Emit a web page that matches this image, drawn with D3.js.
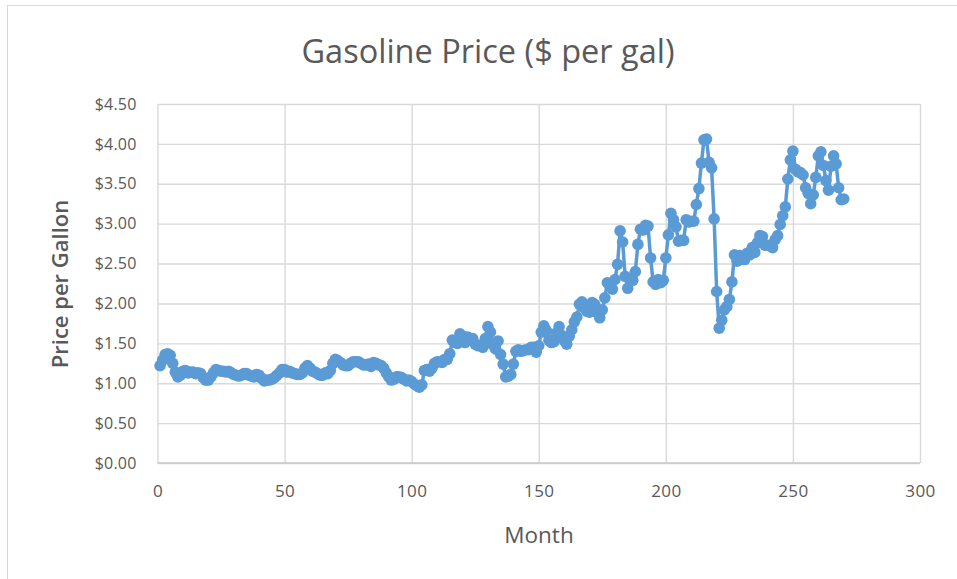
<!DOCTYPE html>
<html><head><meta charset="utf-8">
<script src="https://cdn.jsdelivr.net/npm/d3@7"></script>
<style>body{margin:0;background:#fff}svg{display:block}</style>
</head><body>
<svg id="c" width="957" height="579"></svg>
<script>
const chartTitle = "Gasoline Price ($ per gal)";
const xTitle = "Month";
const yTitle = "Price per Gallon";
const xTicks = [0, 50, 100, 150, 200, 250, 300];
const yTicks = [0, 0.5, 1, 1.5, 2, 2.5, 3, 3.5, 4, 4.5];
const prices = [
  1.22, 1.29, 1.36, 1.37, 1.35,
  1.25, 1.14, 1.08, 1.10, 1.15, 1.16, 1.13, 1.14, 1.14, 1.12, 1.13, 1.12,
  1.07, 1.04, 1.04, 1.08, 1.13, 1.17, 1.16, 1.15, 1.15, 1.14, 1.15, 1.13,
  1.11, 1.10, 1.09, 1.10, 1.12, 1.12, 1.10, 1.09, 1.08, 1.11, 1.10, 1.06,
  1.03, 1.04, 1.04, 1.05, 1.07, 1.10, 1.13, 1.17, 1.17, 1.14, 1.15, 1.13,
  1.12, 1.11, 1.11, 1.13, 1.19, 1.22, 1.19, 1.15, 1.14, 1.12, 1.10, 1.10,
  1.13, 1.12, 1.16, 1.25, 1.30, 1.28, 1.26, 1.23, 1.22, 1.22, 1.25, 1.27,
  1.27, 1.27, 1.25, 1.23, 1.23, 1.24, 1.21, 1.26, 1.25, 1.23, 1.22, 1.19,
  1.13, 1.08, 1.04, 1.05, 1.08, 1.08, 1.07, 1.05, 1.03, 1.04, 1.02, 0.99,
  0.97, 0.95, 0.98, 1.16, 1.17, 1.15, 1.19, 1.25, 1.27, 1.27, 1.26, 1.30,
  1.30, 1.37, 1.54, 1.51, 1.50, 1.62, 1.59, 1.51, 1.58, 1.56, 1.56, 1.49,
  1.47, 1.48, 1.45, 1.56, 1.71, 1.64, 1.48, 1.43, 1.53, 1.36, 1.24, 1.08,
  1.09, 1.11, 1.24, 1.40, 1.42, 1.40, 1.41, 1.42, 1.42, 1.45, 1.45, 1.39,
  1.47, 1.64, 1.72, 1.66, 1.54, 1.51, 1.52, 1.63, 1.71, 1.60, 1.54, 1.49,
  1.59, 1.67, 1.77, 1.83, 1.99, 2.02, 1.94, 1.90, 1.89, 2.01, 1.99, 1.88,
  1.82, 1.92, 2.07, 2.26, 2.22, 2.18, 2.30, 2.49, 2.91, 2.77, 2.34, 2.19,
  2.30, 2.29, 2.40, 2.74, 2.93, 2.92, 2.98, 2.97, 2.57, 2.27, 2.24, 2.30,
  2.26, 2.29, 2.57, 2.86, 3.13, 3.05, 2.96, 2.78, 2.79, 2.79, 3.05, 3.02,
  3.03, 3.03, 3.24, 3.44, 3.76, 4.05, 4.06, 3.77, 3.70, 3.06, 2.15, 1.69,
  1.79, 1.92, 1.96, 2.05, 2.27, 2.61, 2.53, 2.60, 2.55, 2.55, 2.63, 2.61,
  2.70, 2.64, 2.76, 2.85, 2.84, 2.73, 2.73, 2.73, 2.70, 2.80, 2.85, 2.99,
  3.10, 3.21, 3.56, 3.80, 3.91, 3.68, 3.65, 3.64, 3.61, 3.45, 3.38, 3.25,
  3.36, 3.58, 3.85, 3.90, 3.73, 3.54, 3.42, 3.72, 3.85, 3.75, 3.45, 3.30,
  3.31
];
const months = prices.map((d, i) => i + 1);

const FONT = "'Open Sans', 'Noto Sans', sans-serif";
const TXT = "#595959";
const GRID = "#d9d9d9";
const BLUE = "#5b9bd5";

const svg = d3.select("#c");
svg.append("rect").attr("width", 957).attr("height", 579).attr("fill", "#fff");
svg.append("rect").attr("x", 7.5).attr("y", 5.5).attr("width", 1200).attr("height", 1200)
  .attr("fill", "none").attr("stroke", GRID).attr("stroke-width", 1);

const pLeft = 157.5, pRight = 920, pTop = 104, pBottom = 463;
const x = d3.scaleLinear().domain([0, 300]).range([pLeft, pRight]);
const y = d3.scaleLinear().domain([0, 4.5]).range([pBottom, pTop]);

const yAxis = d3.axisLeft(y).tickValues(yTicks)
  .tickFormat(d => "$" + d.toFixed(2))
  .tickSizeInner(-(pRight - pLeft)).tickSizeOuter(0).tickPadding(21);
const gy = svg.append("g").attr("transform", `translate(${pLeft},0)`).call(yAxis);
gy.select(".domain").remove();
gy.selectAll(".tick line").attr("stroke", GRID).attr("stroke-width", 1.4);
gy.selectAll(".tick text").attr("fill", TXT).style("font-family", FONT)
  .style("font-size", "16px").style("letter-spacing", "0.2px");

const xAxis = d3.axisBottom(x).tickValues(xTicks).tickFormat(d3.format("d"))
  .tickSizeInner(-(pBottom - pTop)).tickSizeOuter(0).tickPadding(22);
const gx = svg.append("g").attr("transform", `translate(0,${pBottom})`).call(xAxis);
gx.select(".domain").remove();
gx.selectAll(".tick line").attr("stroke", GRID).attr("stroke-width", 1.4);
gx.selectAll(".tick text").attr("fill", TXT).style("font-family", FONT)
  .style("font-size", "17px").style("letter-spacing", "0.4px");

svg.append("line").attr("x1", pLeft).attr("x2", pRight).attr("y1", pBottom).attr("y2", pBottom)
  .attr("stroke", "#c8c8c8").attr("stroke-width", 1.4);

const line = d3.line().x((d, i) => x(months[i])).y(d => y(d));
svg.append("path").datum(prices).attr("d", line)
  .attr("fill", "none").attr("stroke", BLUE).attr("stroke-width", 3.5).attr("stroke-linejoin", "round");
svg.append("g").selectAll("circle").data(prices).join("circle")
  .attr("cx", (d, i) => x(months[i])).attr("cy", d => y(d)).attr("r", 5.8)
  .attr("fill", BLUE);

svg.append("text").attr("x", 488).attr("y", 63).attr("text-anchor", "middle")
  .attr("fill", TXT).style("font-family", FONT).style("font-size", "32.5px").text(chartTitle);
svg.append("text").attr("x", 539).attr("y", 543).attr("text-anchor", "middle")
  .attr("fill", TXT).style("font-family", FONT).style("font-size", "22.5px").text(xTitle);
svg.append("text").attr("transform", "translate(68,284) rotate(-90)").attr("text-anchor", "middle")
  .attr("fill", TXT).style("font-family", FONT).style("font-size", "22px").style("font-weight", "600").text(yTitle);
</script>
</body></html>
